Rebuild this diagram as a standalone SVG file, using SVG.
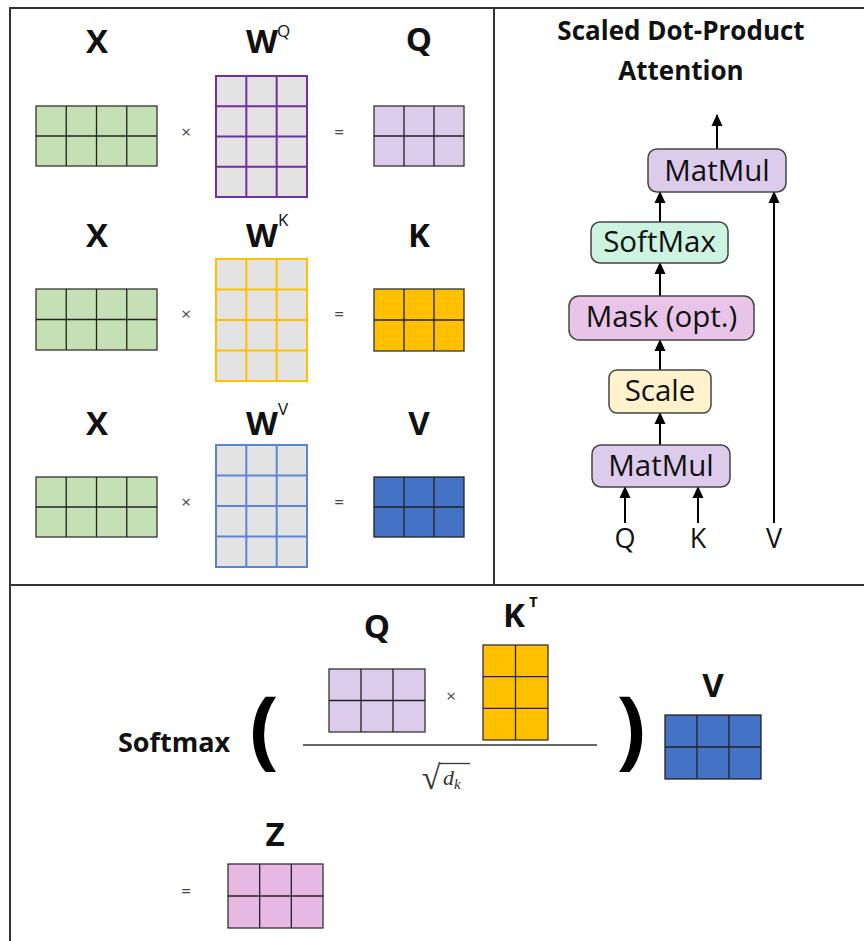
<svg xmlns="http://www.w3.org/2000/svg" width="864" height="941" viewBox="0 0 864 941">
<defs>
<style>
.bg{fill:#ffffff}
.frame{fill:none;stroke:#333333;stroke-width:2}
.lbl{font-family:"Open Sans","Liberation Sans",sans-serif;font-weight:700;font-size:33px;fill:#111111;text-anchor:middle}
.sup{font-family:"Open Sans","Liberation Sans",sans-serif;font-weight:400;font-size:17px;fill:#111111}
.op{font-family:"Open Sans","Liberation Sans",sans-serif;font-size:17px;fill:#444444;text-anchor:middle}
.ttl{font-family:"Open Sans","Liberation Sans",sans-serif;font-weight:700;font-size:26px;fill:#111111;text-anchor:middle}
.nt{font-family:"Open Sans","Liberation Sans",sans-serif;font-weight:400;font-size:29.5px;fill:#111111;text-anchor:middle}
.io{font-family:"Open Sans","Liberation Sans",sans-serif;font-weight:400;font-size:27px;fill:#111111;text-anchor:middle}
.par{font-family:"Open Sans","Liberation Sans",sans-serif;font-weight:700;font-size:86px;fill:#000000;text-anchor:middle}
.grid{stroke:#222222;stroke-width:1.3;fill:none}
.green{fill:#C5E0B4;stroke:#333333;stroke-width:1.3}
.lav{fill:#DDCBEC;stroke:#333333;stroke-width:1.3}
.gold{fill:#FFC000;stroke:#333333;stroke-width:1.3}
.blue{fill:#4472C4;stroke:#222222;stroke-width:1.3}
.pink{fill:#E8B8E4;stroke:#333333;stroke-width:1.3}
.wq{fill:#E3E3E3;stroke:#7030A0;stroke-width:2}
.wk{fill:#E3E3E3;stroke:#FFC000;stroke-width:2}
.wv{fill:#E3E3E3;stroke:#5A85D6;stroke-width:2}
.node{stroke:#444444;stroke-width:1.5}
.arr{stroke:#000000;stroke-width:2;fill:none;marker-end:url(#ah)}
</style>
<marker id="ah" viewBox="0 0 12 12" refX="11" refY="6" markerWidth="12" markerHeight="12" markerUnits="userSpaceOnUse" orient="auto">
<path d="M0 0.5L12 6L0 11.5z" fill="#000000"/>
</marker>
</defs>
<rect class="bg" x="0" y="0" width="864" height="941"/>
<path class="frame" d="M10 941V8H864M494 8V585M10 585H864"/>

<!-- Row 1 -->
<g id="row1">
<text class="lbl" x="97" y="53">X</text>
<text class="lbl" x="262" y="53">W</text><text class="sup" x="277" y="37">Q</text>
<text class="lbl" x="419" y="51">Q</text>
<g id="x1"><rect class="green" x="36" y="106" width="121" height="60"/><path class="grid" d="M66.25 106V166M96.5 106V166M126.75 106V166M36 136H157"/></g>
<text class="op" x="186" y="138">×</text>
<g id="wq"><rect class="wq" x="216" y="76" width="91" height="121"/><path fill="none" stroke="#7030A0" stroke-width="2" d="M246.33 76V197M276.67 76V197M216 106.25H307M216 136.5H307M216 166.75H307"/></g>
<text class="op" x="339" y="138">=</text>
<g id="q1"><rect class="lav" x="374" y="106" width="90" height="60"/><path class="grid" d="M404 106V166M434 106V166M374 136H464"/></g>
</g>

<!-- Row 2 -->
<g id="row2">
<text class="lbl" x="97" y="247">X</text>
<text class="lbl" x="262" y="247">W</text><text class="sup" x="278" y="226">K</text>
<text class="lbl" x="419" y="247">K</text>
<g id="x2"><rect class="green" x="36" y="289" width="121" height="61"/><path class="grid" d="M66.25 289V350M96.5 289V350M126.75 289V350M36 319.5H157"/></g>
<text class="op" x="186" y="320">×</text>
<g id="wk"><rect class="wk" x="216" y="259" width="91" height="122"/><path fill="none" stroke="#FFC000" stroke-width="2" d="M246.33 259V381M276.67 259V381M216 289.5H307M216 320H307M216 350.5H307"/></g>
<text class="op" x="339" y="320">=</text>
<g id="k1"><rect class="gold" x="374" y="289" width="90" height="62"/><path class="grid" d="M404 289V351M434 289V351M374 320H464"/></g>
</g>

<!-- Row 3 -->
<g id="row3">
<text class="lbl" x="97" y="435">X</text>
<text class="lbl" x="262" y="435">W</text><text class="sup" x="278" y="415">V</text>
<text class="lbl" x="419" y="435">V</text>
<g id="x3"><rect class="green" x="36" y="477" width="121" height="60"/><path class="grid" d="M66.25 477V537M96.5 477V537M126.75 477V537M36 507H157"/></g>
<text class="op" x="186" y="508">×</text>
<g id="wv"><rect class="wv" x="216" y="445" width="91" height="122"/><path fill="none" stroke="#5A85D6" stroke-width="2" d="M246.33 445V567M276.67 445V567M216 475.5H307M216 506H307M216 536.5H307"/></g>
<text class="op" x="339" y="508">=</text>
<g id="v1"><rect class="blue" x="374" y="477" width="90" height="60"/><path class="grid" d="M404 477V537M434 477V537M374 507H464"/></g>
</g>

<!-- Right panel -->
<text class="ttl" x="681" y="40">Scaled Dot-Product</text>
<text class="ttl" x="681" y="80">Attention</text>

<g id="connectors">
<path class="arr" d="M717 149V115"/>
<path class="arr" d="M660 222V192"/>
<path class="arr" d="M660 296V263"/>
<path class="arr" d="M660 370V340"/>
<path class="arr" d="M660 445V413"/>
<path class="arr" d="M625 523V487"/>
<path class="arr" d="M698 523V487"/>
<path class="arr" d="M774 523V192"/>
</g>

<g id="matmul-top"><rect class="node" x="648" y="149" width="138" height="43" rx="9" fill="#DDCBEC"/><text class="nt" x="717" y="181">MatMul</text></g>
<g id="softmax"><rect class="node" x="591" y="222" width="137" height="41" rx="9" fill="#CCF4E0"/><text class="nt" x="659.5" y="252">SoftMax</text></g>
<g id="mask"><rect class="node" x="569" y="296" width="185" height="44" rx="10" fill="#E8C5E8"/><text class="nt" x="661.5" y="327">Mask (opt.)</text></g>
<g id="scale"><rect class="node" x="609" y="370" width="102" height="43" rx="8" fill="#FFF2CC"/><text class="nt" x="660" y="401">Scale</text></g>
<g id="matmul-bottom"><rect class="node" x="592" y="445" width="138" height="42" rx="9" fill="#DDCBEC"/><text class="nt" x="661" y="476">MatMul</text></g>
<text class="io" x="625" y="548">Q</text>
<text class="io" x="698" y="548">K</text>
<text class="io" x="774" y="548">V</text>

<!-- Bottom equation -->
<g id="equation">
<text class="lbl" style="font-size:27px" x="174" y="752">Softmax</text>
<text class="par" x="264" y="758">(</text>
<text class="lbl" x="377" y="638">Q</text>
<g id="qb"><rect class="lav" x="329" y="669" width="96" height="63"/><path class="grid" d="M361 669V732M393 669V732M329 700.5H425"/></g>
<text class="op" x="451" y="702">×</text>
<text class="lbl" x="514" y="627">K</text><text class="sup" x="529" y="607" style="font-weight:700;font-size:15px">T</text>
<g id="kt"><rect class="gold" x="483" y="645" width="65" height="95"/><path class="grid" d="M515.5 645V740M483 676.67H548M483 708.33H548"/></g>
<path d="M303 745H597" stroke="#333333" stroke-width="1.6" fill="none"/>
<text x="431" y="789" font-family="Liberation Serif, serif" font-size="34" fill="#333333" text-anchor="middle">√</text>
<path d="M440 763.5H470" stroke="#333333" stroke-width="1.3" fill="none"/>
<text x="443" y="785" font-family="Liberation Serif, serif" font-style="italic" font-size="22" fill="#333333">d<tspan font-size="15" dy="4">k</tspan></text>
<text class="par" x="631" y="758">)</text>
<text class="lbl" x="713" y="697">V</text>
<g id="vb"><rect class="blue" x="665" y="715" width="96" height="64"/><path class="grid" d="M697 715V779M729 715V779M665 747H761"/></g>
<text class="lbl" x="275" y="846">Z</text>
<text class="op" x="186" y="897">=</text>
<g id="z"><rect class="pink" x="228" y="864" width="95" height="64"/><path class="grid" d="M259.67 864V928M291.33 864V928M228 896H323"/></g>
</g>
</svg>
